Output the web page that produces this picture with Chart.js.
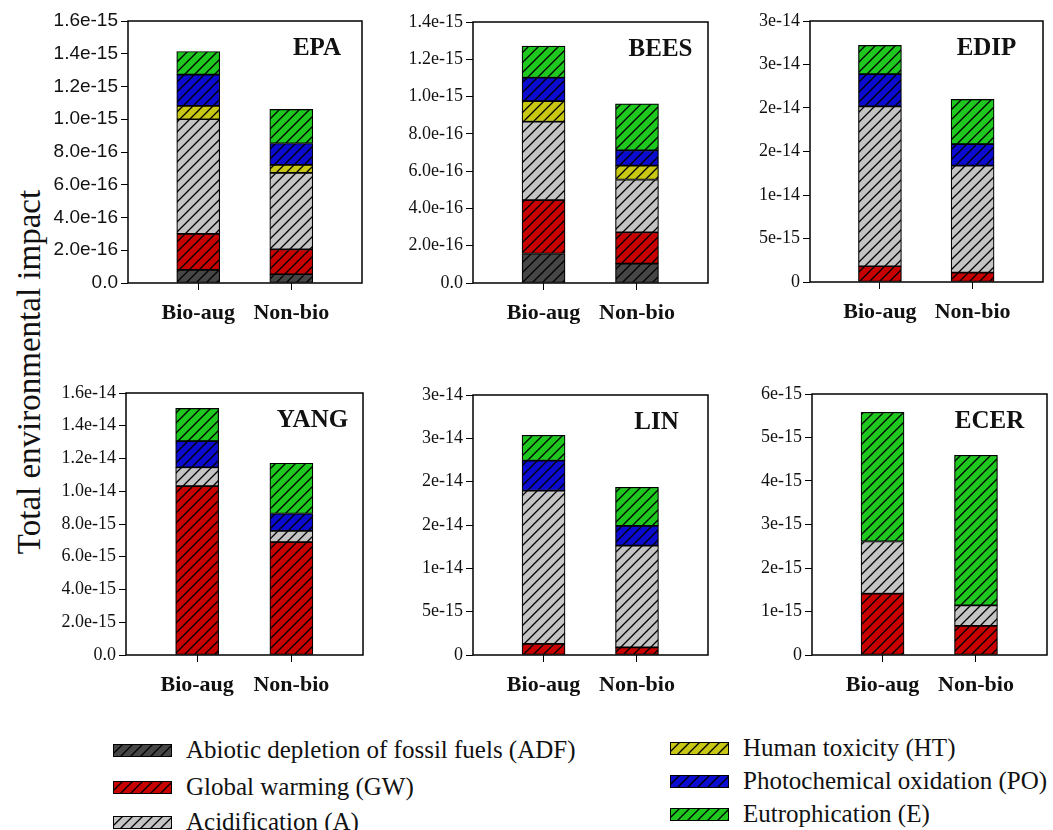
<!DOCTYPE html>
<html>
<head>
    <title>Total environmental impact</title>
    <script src="https://cdn.jsdelivr.net/npm/chart.js"></script>
    <style>
        body {
            margin: 0;
            background-color: white;
        }
        #page {
            position: relative;
            width: 1053px;
            height: 830px;
            overflow: hidden;
        }
        .panel {
            position: absolute;
        }
        #ytitle {
            position: absolute;
            left: 29px;
            top: 372px;
            transform: translate(-50%, -50%) rotate(-90deg);
            font-family: "Liberation Serif", serif;
            font-size: 33px;
            white-space: nowrap;
            color: #111;
        }
        .leg {
            position: absolute;
            height: 26px;
            font-family: "Liberation Serif", serif;
            font-size: 25px;
            line-height: 26px;
            color: #111;
            white-space: nowrap;
        }
        .leg canvas {
            position: absolute;
            left: 0;
            top: 7px;
        }
        .leg span {
            position: absolute;
            left: 73px;
            top: 0;
        }
    </style>
</head>
<body>
<div id="page">
    <div id="ytitle">Total environmental impact</div>
</div>

<script>
    const categories = ['Bio-aug', 'Non-bio'];
    const impacts = [
        'Abiotic depletion of fossil fuels (ADF)',
        'Global warming (GW)',
        'Acidification (A)',
        'Human toxicity (HT)',
        'Photochemical oxidation (PO)',
        'Eutrophication (E)'
    ];
    const impactColors = ['#464646', '#c80000', '#c4c4c4', '#c8c814', '#0c0cd0', '#1ec81e'];

    // rows: ADF, GW, A, HT, PO, E  -- columns: Bio-aug, Non-bio
    const epaValues  = [[0.80e-16, 0.53e-16], [2.20e-16, 1.53e-16], [7.00e-16, 4.67e-16], [0.81e-16, 0.49e-16], [1.92e-16, 1.30e-16], [1.41e-16, 2.08e-16]];
    const beesValues = [[1.58e-16, 1.04e-16], [2.86e-16, 1.68e-16], [4.21e-16, 2.83e-16], [1.11e-16, 0.75e-16], [1.25e-16, 0.82e-16], [1.70e-16, 2.49e-16]];
    const edipValues = [[0, 0], [1.81e-15, 1.08e-15], [18.38e-15, 12.30e-15], [0, 0], [3.69e-15, 2.46e-15], [3.31e-15, 5.15e-15]];
    const yangValues = [[0, 0], [10.32e-15, 6.89e-15], [1.14e-15, 0.69e-15], [0, 0], [1.60e-15, 1.06e-15], [2.00e-15, 3.07e-15]];
    const linValues  = [[0, 0], [1.27e-15, 0.88e-15], [17.69e-15, 11.74e-15], [0, 0], [3.46e-15, 2.27e-15], [2.93e-15, 4.46e-15]];
    const ecerValues = [[0, 0], [1.41e-15, 0.67e-15], [1.20e-15, 0.47e-15], [0, 0], [0, 0], [2.97e-15, 3.45e-15]];

    const epaTicks = [0, 2e-16, 4e-16, 6e-16, 8e-16, 1e-15, 1.2e-15, 1.4e-15, 1.6e-15];
    const epaTickLabels = ['0.0', '2.0e-16', '4.0e-16', '6.0e-16', '8.0e-16', '1.0e-15', '1.2e-15', '1.4e-15', '1.6e-15'];
    const beesTicks = [0, 2e-16, 4e-16, 6e-16, 8e-16, 1e-15, 1.2e-15, 1.4e-15];
    const beesTickLabels = ['0.0', '2.0e-16', '4.0e-16', '6.0e-16', '8.0e-16', '1.0e-15', '1.2e-15', '1.4e-15'];
    const edipTicks = [0, 5e-15, 1e-14, 1.5e-14, 2e-14, 2.5e-14, 3e-14];
    const edipTickLabels = ['0', '5e-15', '1e-14', '2e-14', '2e-14', '3e-14', '3e-14'];
    const yangTicks = [0, 2e-15, 4e-15, 6e-15, 8e-15, 1e-14, 1.2e-14, 1.4e-14, 1.6e-14];
    const yangTickLabels = ['0.0', '2.0e-15', '4.0e-15', '6.0e-15', '8.0e-15', '1.0e-14', '1.2e-14', '1.4e-14', '1.6e-14'];
    const linTicks = [0, 5e-15, 1e-14, 1.5e-14, 2e-14, 2.5e-14, 3e-14];
    const linTickLabels = ['0', '5e-15', '1e-14', '2e-14', '2e-14', '3e-14', '3e-14'];
    const ecerTicks = [0, 1e-15, 2e-15, 3e-15, 4e-15, 5e-15, 6e-15];
    const ecerTickLabels = ['0', '1e-15', '2e-15', '3e-15', '4e-15', '5e-15', '6e-15'];

    const AXIS_W = 110;
    const TOP_PAD = 20;
    const X_AXIS_H = 50;

    const panels = [
        { name: 'EPA',  values: epaValues,  ticks: epaTicks,  labels: epaTickLabels,  box: [128, 21, 234, 262], dx: 72, font: 'Liberation Sans', size: 19 },
        { name: 'BEES', values: beesValues, ticks: beesTicks, labels: beesTickLabels, box: [473, 22, 235, 261], dx: 70, font: 'Liberation Serif', size: 18 },
        { name: 'EDIP', values: edipValues, ticks: edipTicks, labels: edipTickLabels, box: [810, 21, 233, 261], dx: 60, font: 'Liberation Serif', size: 18 },
        { name: 'YANG', values: yangValues, ticks: yangTicks, labels: yangTickLabels, box: [126, 393, 237, 262], dx: 68, font: 'Liberation Serif', size: 18 },
        { name: 'LIN',  values: linValues,  ticks: linTicks,  labels: linTickLabels,  box: [473, 395, 235, 260], dx: 66, font: 'Liberation Serif', size: 18 },
        { name: 'ECER', values: ecerValues, ticks: ecerTicks, labels: ecerTickLabels, box: [812, 394, 235, 261], dx: 60, font: 'Liberation Serif', size: 18 }
    ];

    function hatch(color) {
        const s = 10;
        const c = document.createElement('canvas');
        c.width = s;
        c.height = s;
        const g = c.getContext('2d');
        g.fillStyle = color;
        g.fillRect(0, 0, s, s);
        g.strokeStyle = '#000';
        g.lineWidth = 1.3;
        g.beginPath();
        g.moveTo(0, s); g.lineTo(s, 0);
        g.moveTo(-s / 2, s / 2); g.lineTo(s / 2, -s / 2);
        g.moveTo(s / 2, s * 1.5); g.lineTo(s * 1.5, s / 2);
        g.stroke();
        return g.createPattern(c, 'repeat');
    }
    const patterns = impactColors.map(hatch);

    // frame round the plot area and the method name in its corner
    const panelBox = {
        id: 'panelBox',
        afterDraw(chart, args, opts) {
            const { ctx, chartArea: a } = chart;
            ctx.save();
            ctx.strokeStyle = '#000';
            ctx.lineWidth = 1.5;
            ctx.strokeRect(a.left, a.top, a.right - a.left, a.bottom - a.top);
            ctx.font = 'bold 25px "Liberation Serif"';
            ctx.fillStyle = '#111';
            ctx.textAlign = 'center';
            ctx.textBaseline = 'middle';
            ctx.fillText(opts.name, (a.left + a.right) / 2 + opts.dx, a.top + 28);
            ctx.restore();
        }
    };

    const page = document.getElementById('page');

    panels.forEach(p => {
        const [bx, by, bw, bh] = p.box;
        const canvas = document.createElement('canvas');
        canvas.className = 'panel';
        canvas.width = AXIS_W + bw + 4;
        canvas.height = TOP_PAD + bh + X_AXIS_H;
        canvas.style.left = (bx - AXIS_W) + 'px';
        canvas.style.top = (by - TOP_PAD) + 'px';
        page.appendChild(canvas);

        const datasets = impacts.map((label, k) => ({
            label: label,
            data: categories.map((c, i) => ({ x: i, y: p.values[k][i] })),
            backgroundColor: patterns[k],
            borderColor: '#000',
            borderWidth: 1.2,
            borderSkipped: false,
            barThickness: 43
        }));

        new Chart(canvas.getContext('2d'), {
            type: 'bar',
            data: { datasets: datasets },
            options: {
                responsive: false,
                animation: false,
                layout: { padding: { top: TOP_PAD, right: 4, left: 0, bottom: 0 } },
                plugins: {
                    legend: { display: false },
                    tooltip: { enabled: false },
                    panelBox: { name: p.name, dx: p.dx }
                },
                scales: {
                    x: {
                        type: 'linear',
                        stacked: true,
                        offset: false,
                        bounds: 'data',
                        min: -0.755,
                        max: 1.76,
                        afterBuildTicks: s => { s.ticks = categories.map((c, i) => ({ value: i })); },
                        afterFit: s => { s.height = X_AXIS_H; },
                        ticks: {
                            callback: (v, i) => categories[i],
                            font: { family: 'Liberation Serif', size: 22, weight: 'bold' },
                            color: '#111',
                            padding: 10,
                            autoSkip: false,
                            maxRotation: 0
                        },
                        grid: { offset: false, drawOnChartArea: false, tickLength: 7, color: '#000', lineWidth: 1 },
                        border: { display: false }
                    },
                    y: {
                        type: 'linear',
                        stacked: true,
                        min: 0,
                        max: p.ticks[p.ticks.length - 1],
                        afterBuildTicks: s => { s.ticks = p.ticks.map(v => ({ value: v })); },
                        afterFit: s => { s.width = AXIS_W; },
                        ticks: {
                            callback: (v, i) => p.labels[i],
                            font: { family: p.font, size: p.size },
                            color: '#111',
                            padding: 3,
                            autoSkip: false
                        },
                        grid: { drawOnChartArea: false, tickLength: 7, color: '#000', lineWidth: 1 },
                        border: { display: false }
                    }
                }
            },
            plugins: [panelBox]
        });
    });

    // legend in two columns under the panels
    const legendSlots = [[113, 750], [113, 787], [113, 822], [670, 748], [670, 781], [670, 814]];
    impacts.forEach((label, k) => {
        const item = document.createElement('div');
        item.className = 'leg';
        item.style.left = legendSlots[k][0] + 'px';
        item.style.top = (legendSlots[k][1] - 13) + 'px';
        const sw = document.createElement('canvas');
        sw.width = 59;
        sw.height = 13;
        const g = sw.getContext('2d');
        g.fillStyle = patterns[k];
        g.fillRect(0, 0, 59, 13);
        g.strokeStyle = '#000';
        g.lineWidth = 1;
        g.strokeRect(0.5, 0.5, 58, 12);
        const txt = document.createElement('span');
        txt.textContent = label;
        item.appendChild(sw);
        item.appendChild(txt);
        page.appendChild(item);
    });
</script>
</body>
</html>
